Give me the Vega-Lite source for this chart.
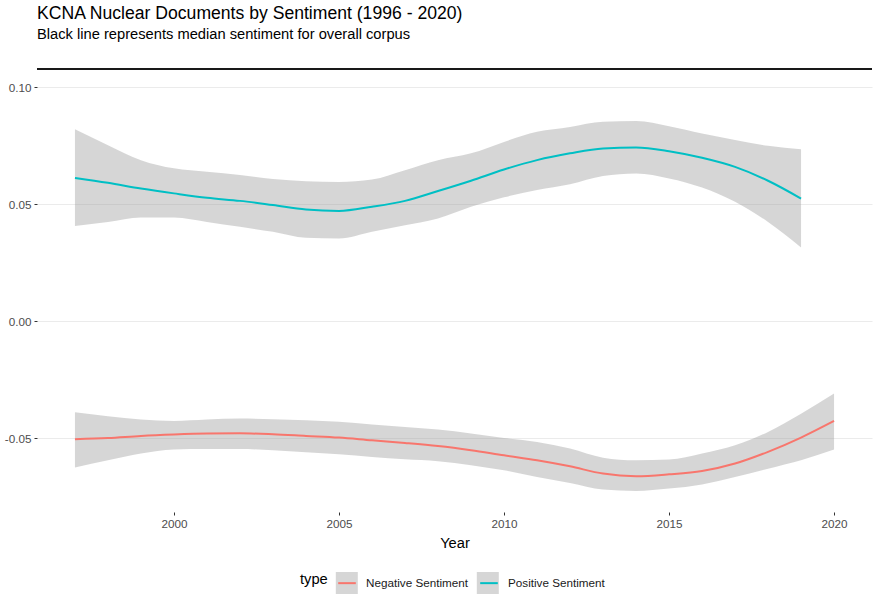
{
  "$schema": "https://vega.github.io/schema/vega-lite/v6.json",
  "autosize": "none",
  "width": 835,
  "height": 464,
  "padding": {"left": 37, "top": 48, "right": 8, "bottom": 88},
  "title": {
    "text": "KCNA Nuclear Documents by Sentiment (1996 - 2020)",
    "subtitle": "Black line represents median sentiment for overall corpus",
    "anchor": "start",
    "frame": "group",
    "offset": 6
  },
  "data": {
    "values": [
      {"year": 1997, "type": "Negative Sentiment", "y": -0.0504, "lo": -0.0625, "hi": -0.0389},
      {"year": 1998, "type": "Negative Sentiment", "y": -0.0499, "lo": -0.0594, "hi": -0.0406},
      {"year": 1999, "type": "Negative Sentiment", "y": -0.0490, "lo": -0.0565, "hi": -0.0420},
      {"year": 2000, "type": "Negative Sentiment", "y": -0.0484, "lo": -0.0548, "hi": -0.0426},
      {"year": 2001, "type": "Negative Sentiment", "y": -0.0480, "lo": -0.0546, "hi": -0.0420},
      {"year": 2002, "type": "Negative Sentiment", "y": -0.0479, "lo": -0.0546, "hi": -0.0416},
      {"year": 2003, "type": "Negative Sentiment", "y": -0.0483, "lo": -0.0551, "hi": -0.0419},
      {"year": 2004, "type": "Negative Sentiment", "y": -0.0490, "lo": -0.0560, "hi": -0.0423},
      {"year": 2005, "type": "Negative Sentiment", "y": -0.0497, "lo": -0.0568, "hi": -0.0430},
      {"year": 2006, "type": "Negative Sentiment", "y": -0.0509, "lo": -0.0580, "hi": -0.0441},
      {"year": 2007, "type": "Negative Sentiment", "y": -0.0520, "lo": -0.0590, "hi": -0.0452},
      {"year": 2008, "type": "Negative Sentiment", "y": -0.0533, "lo": -0.0598, "hi": -0.0463},
      {"year": 2009, "type": "Negative Sentiment", "y": -0.0551, "lo": -0.0615, "hi": -0.0480},
      {"year": 2010, "type": "Negative Sentiment", "y": -0.0573, "lo": -0.0637, "hi": -0.0499},
      {"year": 2011, "type": "Negative Sentiment", "y": -0.0594, "lo": -0.0665, "hi": -0.0516},
      {"year": 2012, "type": "Negative Sentiment", "y": -0.0620, "lo": -0.0691, "hi": -0.0544},
      {"year": 2013, "type": "Negative Sentiment", "y": -0.0651, "lo": -0.0719, "hi": -0.0583},
      {"year": 2014, "type": "Negative Sentiment", "y": -0.0662, "lo": -0.0725, "hi": -0.0594},
      {"year": 2015, "type": "Negative Sentiment", "y": -0.0654, "lo": -0.0715, "hi": -0.0591},
      {"year": 2016, "type": "Negative Sentiment", "y": -0.0640, "lo": -0.0697, "hi": -0.0565},
      {"year": 2017, "type": "Negative Sentiment", "y": -0.0608, "lo": -0.0665, "hi": -0.0530},
      {"year": 2018, "type": "Negative Sentiment", "y": -0.0558, "lo": -0.0630, "hi": -0.0473},
      {"year": 2019, "type": "Negative Sentiment", "y": -0.0497, "lo": -0.0594, "hi": -0.0395},
      {"year": 2020, "type": "Negative Sentiment", "y": -0.0426, "lo": -0.0548, "hi": -0.0309},
      {"year": 1997, "type": "Positive Sentiment", "y": 0.0612, "lo": 0.0407, "hi": 0.0820},
      {"year": 1998, "type": "Positive Sentiment", "y": 0.0591, "lo": 0.0424, "hi": 0.0752},
      {"year": 1999, "type": "Positive Sentiment", "y": 0.0567, "lo": 0.0443, "hi": 0.0688},
      {"year": 2000, "type": "Positive Sentiment", "y": 0.0546, "lo": 0.0443, "hi": 0.0653},
      {"year": 2001, "type": "Positive Sentiment", "y": 0.0527, "lo": 0.0424, "hi": 0.0638},
      {"year": 2002, "type": "Positive Sentiment", "y": 0.0514, "lo": 0.0403, "hi": 0.0624},
      {"year": 2003, "type": "Positive Sentiment", "y": 0.0496, "lo": 0.0382, "hi": 0.0607},
      {"year": 2004, "type": "Positive Sentiment", "y": 0.0477, "lo": 0.0356, "hi": 0.0598},
      {"year": 2005, "type": "Positive Sentiment", "y": 0.0471, "lo": 0.0353, "hi": 0.0595},
      {"year": 2006, "type": "Positive Sentiment", "y": 0.0489, "lo": 0.0382, "hi": 0.0605},
      {"year": 2007, "type": "Positive Sentiment", "y": 0.0514, "lo": 0.0410, "hi": 0.0645},
      {"year": 2008, "type": "Positive Sentiment", "y": 0.0556, "lo": 0.0439, "hi": 0.0688},
      {"year": 2009, "type": "Positive Sentiment", "y": 0.0600, "lo": 0.0489, "hi": 0.0717},
      {"year": 2010, "type": "Positive Sentiment", "y": 0.0648, "lo": 0.0529, "hi": 0.0766},
      {"year": 2011, "type": "Positive Sentiment", "y": 0.0688, "lo": 0.0560, "hi": 0.0809},
      {"year": 2012, "type": "Positive Sentiment", "y": 0.0717, "lo": 0.0585, "hi": 0.0830},
      {"year": 2013, "type": "Positive Sentiment", "y": 0.0738, "lo": 0.0620, "hi": 0.0852},
      {"year": 2014, "type": "Positive Sentiment", "y": 0.0742, "lo": 0.0631, "hi": 0.0855},
      {"year": 2015, "type": "Positive Sentiment", "y": 0.0726, "lo": 0.0610, "hi": 0.0833},
      {"year": 2016, "type": "Positive Sentiment", "y": 0.0698, "lo": 0.0571, "hi": 0.0802},
      {"year": 2017, "type": "Positive Sentiment", "y": 0.0659, "lo": 0.0510, "hi": 0.0774},
      {"year": 2018, "type": "Positive Sentiment", "y": 0.0600, "lo": 0.0424, "hi": 0.0749},
      {"year": 2019, "type": "Positive Sentiment", "y": 0.0524, "lo": 0.0315, "hi": 0.0734}
    ]
  },
  "layer": [
    {
      "mark": {"type": "area", "interpolate": "monotone", "fillOpacity": 0.4},
      "encoding": {
        "x": {
          "field": "year",
          "type": "quantitative",
          "title": "Year",
          "scale": {"domain": [1995.85, 2021.15], "nice": false, "zero": false},
          "axis": {"values": [2000, 2005, 2010, 2015, 2020], "format": "d", "grid": false}
        },
        "y": {
          "field": "lo",
          "type": "quantitative",
          "title": null,
          "scale": {"domain": [-0.0815, 0.1167], "nice": false, "zero": false},
          "axis": {
            "values": [-0.05, 0, 0.05, 0.1],
            "labelExpr": "datum.value < 0 ? '-' + format(-datum.value, '.2f') : format(datum.value, '.2f')"
          }
        },
        "y2": {"field": "hi"},
        "fill": {
          "field": "type",
          "type": "nominal",
          "scale": {"domain": ["Negative Sentiment", "Positive Sentiment"], "range": ["#999999", "#999999"]},
          "legend": {
            "title": null,
            "legendX": 297.8,
            "symbolType": "square",
            "symbolOpacity": 0.4,
            "labelOpacity": 0
          }
        }
      }
    },
    {
      "mark": {"type": "line", "interpolate": "monotone", "strokeWidth": 2},
      "encoding": {
        "x": {"field": "year", "type": "quantitative"},
        "y": {"field": "y", "type": "quantitative"},
        "color": {
          "field": "type",
          "type": "nominal",
          "scale": {"range": ["#F8766D", "#00BFC4"]},
          "legend": {
            "title": "type",
            "symbolType": "M-0.8,0H0.8",
            "symbolStrokeWidth": 2,
            "symbolFillColor": "transparent",
            "zindex": 1
          }
        }
      }
    },
    {
      "mark": {"type": "rule", "color": "#1a1a1a", "strokeWidth": 1.6},
      "encoding": {"y": {"datum": 0.1077}}
    }
  ],
  "config": {
    "font": "Liberation Sans",
    "view": {"stroke": null},
    "title": {
      "fontSize": 17.6,
      "fontWeight": "normal",
      "color": "#000000",
      "subtitleFontSize": 14.7,
      "subtitleColor": "#000000",
      "subtitlePadding": 5
    },
    "axis": {
      "domain": false,
      "ticks": true,
      "tickSize": 3,
      "tickColor": "#333333",
      "labelColor": "#4d4d4d",
      "labelFontSize": 11.7,
      "labelPadding": 3,
      "gridColor": "#ebebeb",
      "gridWidth": 1.1,
      "titleFontSize": 14.7,
      "titleFontWeight": "normal",
      "titleColor": "#000000",
      "titlePadding": 6
    },
    "legend": {
      "orient": "none",
      "direction": "horizontal",
      "legendX": 263,
      "legendY": 523,
      "titleOrient": "left",
      "titleFontSize": 14.7,
      "titleFontWeight": "normal",
      "titleColor": "#000000",
      "titlePadding": 7,
      "labelFontSize": 11.7,
      "labelColor": "#1a1a1a",
      "labelOffset": 7,
      "columnPadding": 8,
      "symbolSize": 484
    }
  }
}
